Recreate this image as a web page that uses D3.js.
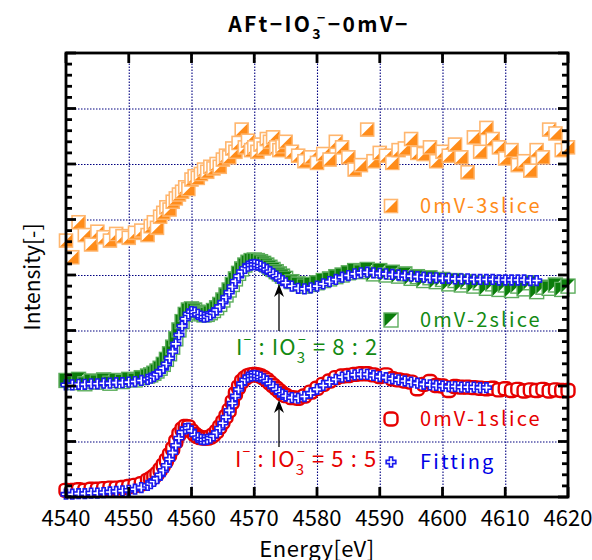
<!DOCTYPE html>
<html>
<head>
<meta charset="utf-8">
<script src="https://cdn.jsdelivr.net/npm/d3@7"></script>
<style>
  body { margin: 0; background: #fff; }
  text { font-family: "Noto Sans CJK JP", "Noto Sans", sans-serif; }
</style>
</head>
<body>
<script>
// energy grid of the scans (eV)
const energies = [
  4540, 4541, 4542, 4543, 4544, 4545, 4546, 4547, 4548, 4549, 4550, 4551, 4552, 4553,
  4553.5, 4554, 4554.5, 4555, 4555.5, 4556, 4556.5, 4557, 4557.5, 4558, 4558.5, 4559, 4559.5, 4560,
  4560.5, 4561, 4561.5, 4562, 4562.5, 4563, 4563.5, 4564, 4564.5, 4565, 4565.5, 4566, 4566.5, 4567,
  4567.5, 4568, 4568.5, 4569, 4569.5, 4570, 4570.5, 4571, 4571.5, 4572, 4572.5, 4573, 4573.5, 4574,
  4574.5, 4575,
  4576, 4577, 4578, 4579, 4580, 4581, 4582, 4583, 4584, 4585, 4586, 4587, 4588, 4589, 4590,
  4591, 4592, 4593, 4594, 4595, 4596, 4597, 4598, 4599, 4600, 4601, 4602, 4603, 4604, 4605,
  4606, 4607, 4608, 4609, 4610, 4611, 4612, 4613, 4614, 4615, 4616, 4617, 4618, 4619, 4620
]

// 0mV-1slice (red)
const slice1 = [
  0.12, 0.12, 0.13, 0.12, 0.14, 0.14, 0.15, 0.16, 0.16, 0.17, 0.19, 0.21, 0.24, 0.30,
  0.33, 0.37, 0.42, 0.49, 0.57, 0.66, 0.76, 0.87, 1.00, 1.13, 1.22, 1.27, 1.26, 1.19,
  1.13, 1.09, 1.07, 1.06, 1.06, 1.08, 1.12, 1.18, 1.26, 1.35, 1.45, 1.56, 1.71, 1.86,
  1.98, 2.08, 2.14, 2.18, 2.20, 2.21, 2.20, 2.18, 2.15, 2.11, 2.06, 2.01, 1.96, 1.91,
  1.86, 1.83,
  1.79, 1.78, 1.82, 1.89, 1.96, 2.03, 2.09, 2.15, 2.18, 2.19, 2.21, 2.22, 2.22, 2.20, 2.17,
  2.20, 2.13, 2.11, 2.09, 2.07, 1.95, 2.03, 2.08, 2.01, 2.00, 1.92, 1.99, 1.98, 1.98, 1.97,
  1.96, 1.95, 1.96, 1.93, 1.95, 1.92, 1.94, 1.91, 1.93, 1.92, 1.94, 1.91, 1.93, 1.92, 1.92
]
// fitting of slice 1 (ends at 4607 eV)
const fit1 = [
  0.05, 0.05, 0.06, 0.06, 0.07, 0.07, 0.08, 0.09, 0.10, 0.11, 0.12, 0.14, 0.17, 0.21,
  0.24, 0.28, 0.33, 0.40, 0.48, 0.57, 0.68, 0.80, 0.93, 1.06, 1.17, 1.23, 1.24, 1.19,
  1.12, 1.07, 1.04, 1.03, 1.04, 1.06, 1.10, 1.16, 1.24, 1.33, 1.44, 1.56, 1.69, 1.82,
  1.94, 2.04, 2.11, 2.16, 2.18, 2.19, 2.18, 2.16, 2.13, 2.09, 2.04, 1.99, 1.94, 1.89,
  1.85, 1.82,
  1.79, 1.78, 1.81, 1.87, 1.94, 2.01, 2.07, 2.12, 2.16, 2.18, 2.20, 2.21, 2.21, 2.19, 2.17,
  2.15, 2.13, 2.11, 2.09, 2.07, 2.05, 2.03, 2.02, 2.01, 2.00, 1.99, 1.99, 1.98, 1.98, 1.98,
  1.97, 1.97
]

// 0mV-2slice (green)
const slice2 = [
  2.10, 2.06, 2.12, 2.04, 2.09, 2.07, 2.11, 2.05, 2.10, 2.08, 2.12, 2.11, 2.15, 2.18,
  2.20, 2.23, 2.27, 2.32, 2.39, 2.48, 2.58, 2.70, 2.85, 3.01, 3.16, 3.29, 3.37, 3.39,
  3.37, 3.33, 3.30, 3.28, 3.29, 3.32, 3.36, 3.41, 3.47, 3.55, 3.64, 3.73, 3.83, 3.93,
  4.03, 4.11, 4.18, 4.23, 4.26, 4.27, 4.26, 4.24, 4.21, 4.18, 4.14, 4.10, 4.06, 4.02,
  3.98, 3.94,
  3.88, 3.84, 3.80, 3.83, 3.86, 3.90, 3.93, 3.97, 4.00, 4.04, 4.08, 4.06, 4.10, 4.02, 4.08,
  4.00, 4.05, 3.98, 4.02, 3.94, 3.97, 3.90, 3.95, 3.88, 3.92, 3.84, 3.90, 3.82, 3.88, 3.80,
  3.86, 3.76, 3.84, 3.74, 3.82, 3.72, 3.80, 3.75, 3.86, 3.70, 3.78, 3.76, 3.82, 3.74, 3.80
]
// fitting of slice 2 (ends at 4615 eV)
const fit2 = [
  2.02, 2.02, 2.03, 2.03, 2.04, 2.04, 2.05, 2.05, 2.06, 2.06, 2.07, 2.08, 2.10, 2.12,
  2.14, 2.17, 2.21, 2.26, 2.32, 2.40, 2.50, 2.62, 2.76, 2.92, 3.08, 3.21, 3.30, 3.34,
  3.33, 3.29, 3.26, 3.24, 3.25, 3.28, 3.32, 3.37, 3.43, 3.51, 3.60, 3.69, 3.79, 3.89,
  3.98, 4.06, 4.12, 4.16, 4.18, 4.19, 4.18, 4.16, 4.13, 4.10, 4.06, 4.02, 3.98, 3.94,
  3.90, 3.86,
  3.80, 3.76, 3.75, 3.77, 3.80, 3.84, 3.88, 3.92, 3.96, 3.99, 4.02, 4.04, 4.05, 4.04, 4.03,
  4.02, 4.01, 4.00, 3.99, 3.98, 3.97, 3.96, 3.95, 3.95, 3.94, 3.94, 3.93, 3.93, 3.93, 3.92,
  3.92, 3.92, 3.92, 3.91, 3.91, 3.91, 3.91, 3.91, 3.90, 3.90
]

// 0mV-3slice (orange)
const slice3 = [
  4.62, 4.32, 4.95, 4.72, 4.55, 4.78, 4.68, 4.62, 4.74, 4.70, 4.67, 4.76, 4.80, 4.72,
  4.88, 4.95, 4.85, 5.05, 5.12, 5.22, 5.18, 5.32, 5.38, 5.45, 5.50, 5.58, 5.55, 5.72,
  5.78, 5.75, 5.82, 5.90, 5.86, 5.95, 5.92, 6.00, 5.95, 6.08, 6.15, 6.12, 6.28, 6.22,
  6.38, 6.62, 6.30, 6.42, 6.25, 6.30, 6.22, 6.35, 6.28, 6.45, 6.40, 6.48, 6.30, 6.25,
  6.32, 6.40,
  6.22, 6.15, 6.05, 6.12, 6.02, 6.18, 6.08, 6.40, 6.30, 6.12, 5.90, 5.98, 6.62, 6.05, 6.20,
  6.15, 6.02, 6.25, 6.28, 6.45, 6.20, 6.18, 6.30, 6.05, 6.22, 6.15, 6.35, 6.12, 5.85, 6.48,
  6.22, 6.65, 6.45, 6.30, 6.10, 6.25, 5.98, 6.05, 5.88, 6.25, 6.12, 6.62, 6.55, 6.25, 6.30
]

const xTicks = [4540, 4550, 4560, 4570, 4580, 4590, 4600, 4610, 4620]
const yMajor = [0, 1, 2, 3, 4, 5, 6, 7, 8]
const yMinor = [0.2, 0.4, 0.6, 0.8, 1.2, 1.4, 1.6, 1.8, 2.2, 2.4, 2.6, 2.8, 3.2, 3.4, 3.6, 3.8,
                4.2, 4.4, 4.6, 4.8, 5.2, 5.4, 5.6, 5.8, 6.2, 6.4, 6.6, 6.8, 7.2, 7.4, 7.6, 7.8]

const legendLabels = ['0mV-3slice', '0mV-2slice', '0mV-1slice', 'Fitting']
const ratioLabels = [['8', '2'], ['5', '5']]

let width = 592,
    height = 560
const plotLeft = 66, plotRight = 568, plotTop = 53, plotBottom = 497

let svg = d3.select('body').append('svg')
  .attr('width', width)
  .attr('height', height)

const x = d3.scaleLinear().domain([4540, 4620]).range([plotLeft, plotRight])
const y = d3.scaleLinear().domain([0, 8]).range([plotBottom, plotTop])

const gridColor = '#000080'

// dotted grid
svg.append('g')
  .attr('transform', `translate(0,${plotBottom})`)
  .call(d3.axisBottom(x).tickValues(xTicks.slice(1, -1)).tickSize(-(plotBottom - plotTop)).tickFormat(''))
  .call(g => g.select('.domain').remove())
  .selectAll('line')
  .attr('stroke', gridColor)
  .attr('stroke-width', 1.1)
  .attr('stroke-dasharray', '1.5,1.5')

svg.append('g')
  .attr('transform', `translate(${plotLeft},0)`)
  .call(d3.axisLeft(y).tickValues(yMajor.slice(1, -1)).tickSize(-(plotRight - plotLeft)).tickFormat(''))
  .call(g => g.select('.domain').remove())
  .selectAll('line')
  .attr('stroke', gridColor)
  .attr('stroke-width', 1.1)
  .attr('stroke-dasharray', '1.5,1.5')

// markers
let drawSeries = (values, shape) => {
  let pts = values.map((v, i) => ({e: energies[i], v: v}))
  let m = svg.append('g').selectAll('g').data(pts).enter().append('g')
    .attr('transform', d => `translate(${x(d.e)},${y(d.v)})`)
  shape(m)
}

let orangeMark = m => {
  m.append('rect').attr('x', -6.5).attr('y', -6.5).attr('width', 13).attr('height', 13)
    .attr('fill', '#fff').attr('stroke', '#ffb66e').attr('stroke-width', 1.6)
  m.append('path').attr('d', 'M6,-6L6,6L-6,6Z').attr('fill', '#ff8c1a')
}
let greenMark = m => {
  m.append('rect').attr('x', -7).attr('y', -7).attr('width', 14).attr('height', 14)
    .attr('fill', '#fff').attr('stroke', '#5cad5c').attr('stroke-width', 1.4)
  m.append('path').attr('d', 'M-6.5,-6.5L6.5,-6.5L-6.5,6.5Z').attr('fill', '#0b7d0b')
}
let redMark = m => {
  m.append('rect').attr('x', -6.5).attr('y', -6.5).attr('width', 13).attr('height', 13).attr('rx', 4.5)
    .attr('fill', '#fff').attr('stroke', '#e60000').attr('stroke-width', 2.4)
}
const cross = d3.symbol(d3.symbolCross, 52)
let fitMark = m => {
  m.append('path').attr('d', cross)
    .attr('fill', '#fff').attr('stroke', '#1a1aee').attr('stroke-width', 1.6)
}

drawSeries(slice3, orangeMark)
drawSeries(slice2, greenMark)
drawSeries(slice1, redMark)
drawSeries(fit2, fitMark)
drawSeries(fit1, fitMark)

// frame and ticks
const axisW = 2.8
let tickLine = (x1, y1, x2, y2) => svg.append('line')
  .attr('x1', x1).attr('y1', y1).attr('x2', x2).attr('y2', y2)
  .attr('stroke', '#000').attr('stroke-width', axisW)

xTicks.forEach(t => {
  tickLine(x(t), plotBottom, x(t), plotBottom - 10)
  tickLine(x(t), plotTop, x(t), plotTop + 10)
})
yMajor.forEach(t => {
  tickLine(plotLeft, y(t), plotLeft + 10, y(t))
  tickLine(plotRight, y(t), plotRight - 10, y(t))
})
yMinor.forEach(t => {
  tickLine(plotLeft, y(t), plotLeft + 6, y(t))
  tickLine(plotRight, y(t), plotRight - 6, y(t))
})
svg.append('rect')
  .attr('x', plotLeft).attr('y', plotTop)
  .attr('width', plotRight - plotLeft).attr('height', plotBottom - plotTop)
  .attr('fill', 'none').attr('stroke', '#000').attr('stroke-width', axisW)

// tick labels
svg.append('g').selectAll('text').data(xTicks).enter().append('text')
  .attr('x', d => x(d))
  .attr('y', plotBottom + 29)
  .attr('text-anchor', 'middle')
  .style('font-size', '22px')
  .text(d => d)

// axis titles
svg.append('text')
  .attr('x', (plotLeft + plotRight) / 2)
  .attr('y', 557)
  .attr('text-anchor', 'middle')
  .style('font-size', '22px')
  .style('letter-spacing', '0.5px')
  .text('Energy[eV]')

svg.append('text')
  .attr('transform', `translate(40,${(plotTop + plotBottom) / 2 + 2}) rotate(-90)`)
  .attr('text-anchor', 'middle')
  .style('font-size', '21px')
  .text('Intensity[-]')

// title
let title = svg.append('text')
  .attr('x', 319)
  .attr('y', 32)
  .attr('text-anchor', 'middle')
  .style('font-size', '21px')
  .style('font-weight', 'bold')
  .style('letter-spacing', '2.4px')
title.append('tspan').text('AFt−IO')
title.append('tspan').attr('dy', 7).style('font-size', '14px').text('3')
title.append('tspan').attr('dx', -6).attr('dy', -16).style('font-size', '14px').text('−')
title.append('tspan').attr('dy', 9).text('−0mV−')

// legend
const legendRows = [
  {label: legendLabels[0], ly: 206, color: '#ff8c1a', mark: orangeMark},
  {label: legendLabels[1], ly: 320, color: '#138a13', mark: greenMark},
  {label: legendLabels[2], ly: 419, color: '#e60000', mark: redMark},
  {label: legendLabels[3], ly: 462, color: '#0000e6', mark: fitMark}
]
legendRows.forEach(r => {
  let m = svg.append('g').attr('transform', `translate(391,${r.ly})`)
  r.mark(m)
  svg.append('text')
    .attr('x', 420)
    .attr('y', r.ly + 7)
    .attr('fill', r.color)
    .style('font-size', '20px')
    .style('letter-spacing', '2.2px')
    .text(r.label)
})

// ratio annotations with arrows
let annotate = (ratio, tx, ty, color, arrowBottom, arrowTip) => {
  let t = svg.append('text')
    .attr('x', tx)
    .attr('y', ty)
    .attr('fill', color)
    .style('font-size', '22px')
    .style('letter-spacing', '1.1px')
  t.append('tspan').text('I')
  t.append('tspan').attr('dy', -10).style('font-size', '14px').text('−')
  t.append('tspan').attr('dy', 10).text('\u00a0: IO')
  t.append('tspan').attr('dy', 8).style('font-size', '15px').text('3')
  t.append('tspan').attr('dx', -8).attr('dy', -18).style('font-size', '14px').text('−')
  t.append('tspan').attr('dy', 10).text(`\u00a0= ${ratio[0]} : ${ratio[1]}`)

  svg.append('line')
    .attr('x1', 279).attr('y1', arrowBottom)
    .attr('x2', 279).attr('y2', arrowTip + 6)
    .attr('stroke', '#000').attr('stroke-width', 1.3)
  svg.append('path')
    .attr('d', `M279,${arrowTip}L284,${arrowTip + 13}L279,${arrowTip + 9}L274,${arrowTip + 13}Z`)
    .attr('fill', '#000')
}
annotate(ratioLabels[0], 236, 355, '#138a13', 331, 284)
annotate(ratioLabels[1], 235, 467, '#e60000', 447, 400)
</script>
</body>
</html>
